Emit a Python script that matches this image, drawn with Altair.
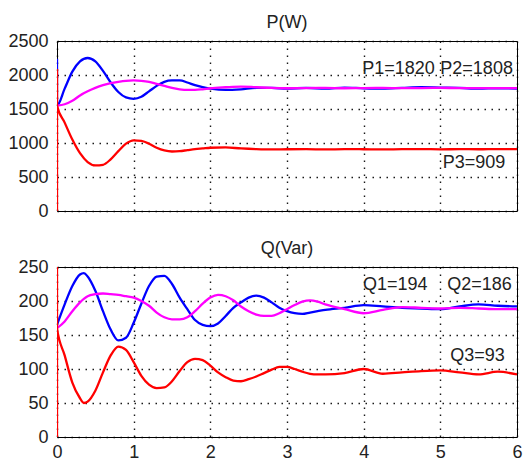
import altair as alt
import pandas as pd

# ---------------- data ----------------
t_p = [0, 0.1, 0.2, 0.3, 0.4, 0.5, 0.6, 0.7, 0.8, 0.9, 1.0, 1.1, 1.2, 1.3, 1.4,
       1.5, 1.6, 1.7, 1.8, 1.9, 2.0, 2.2, 2.4, 2.6, 2.8, 3.0, 3.25, 3.5, 3.75,
       4.0, 4.25, 4.5, 4.75, 5.0, 5.25, 5.5, 5.75, 6.0]
p1 = [1550, 1800, 2050, 2200, 2250, 2200, 2060, 1890, 1750, 1670, 1650, 1680,
      1760, 1840, 1900, 1920, 1920, 1890, 1850, 1820, 1800, 1780, 1790, 1810,
      1810, 1800, 1810, 1800, 1815, 1805, 1800, 1810, 1820, 1815, 1810, 1800,
      1805, 1800]
p2 = [1550, 1570, 1620, 1700, 1760, 1810, 1850, 1880, 1900, 1915, 1920, 1915,
      1900, 1870, 1840, 1810, 1790, 1780, 1780, 1790, 1805, 1820, 1830, 1820,
      1810, 1805, 1808, 1810, 1805, 1808, 1810, 1806, 1808, 1810, 1807, 1808,
      1806, 1808]
p3 = [1550, 1300, 1050, 850, 720, 670, 680, 760, 880, 990, 1040, 1030, 990,
      930, 890, 875, 880, 895, 910, 920, 930, 935, 920, 910, 905, 908, 910,
      905, 910, 908, 905, 909, 910, 907, 909, 908, 910, 909]
# initial switching spikes at t = 0
p1_spike = [2240]
p3_spike = [0, 2090]

t_q = [0, 0.1, 0.2, 0.3, 0.35, 0.4, 0.5, 0.6, 0.7, 0.8, 0.9, 1.0, 1.1, 1.2,
       1.3, 1.4, 1.5, 1.6, 1.7, 1.8, 1.9, 2.0, 2.1, 2.2, 2.3, 2.4, 2.5, 2.6,
       2.7, 2.8, 2.9, 3.0, 3.1, 3.2, 3.3, 3.4, 3.5, 3.75, 4.0, 4.25, 4.5, 4.75,
       5.0, 5.25, 5.5, 5.75, 6.0]
q1 = [165, 195, 222, 239, 241, 236, 215, 185, 158, 142, 146, 168, 196, 222,
      236, 237, 225, 205, 188, 172, 165, 163, 167, 178, 190, 198, 205, 208,
      205, 198, 190, 185, 182, 181, 183, 185, 187, 190, 194, 192, 190, 189,
      188, 192, 195, 193, 192]
q2 = [160, 170, 185, 198, 203, 207, 210, 211, 210, 209, 207, 205, 200, 193,
      183, 176, 173, 173, 176, 185, 196, 205, 209, 207, 201, 192, 185, 180,
      178, 178, 182, 188, 194, 199, 201, 199, 195, 188, 182, 187, 191, 190,
      189, 190, 189, 188, 188]
q3 = [160, 120, 80, 57, 50, 52, 68, 95, 120, 133, 128, 110, 90, 77, 72, 73,
      82, 97, 110, 115, 113, 105, 95, 88, 83, 82, 85, 89, 94, 99, 103, 103,
      100, 96, 93, 92, 92, 94, 100, 93, 95, 97, 98, 95, 92, 96, 92]
q3_spike = [0, 250]

series_names = ["1", "2", "3"]
series_colors = ["#0000FF", "#FF00FF", "#FF0000"]

p_labels = ["P1=1820", "P2=1808", "P3=909"]
p_label_t = [3.98, 5.0, 5.03]
p_label_v = [2090, 2090, 706]
q_labels = ["Q1=194", "Q2=186", "Q3=93"]
q_label_t = [3.99, 5.09, 5.13]
q_label_v = [223, 223, 119]

x_ticks = [0, 1, 2, 3, 4, 5, 6]
p_ticks = [0, 500, 1000, 1500, 2000, 2500]
q_ticks = [0, 50, 100, 150, 200, 250]


def build(t, curves, spikes):
    rows = []
    i = 0
    for name, vals in zip(series_names, curves):
        for v in spikes.get(name, []):
            rows.append({"t": 0.0, "v": v, "s": name, "i": i})
            i += 1
        for tt, v in zip(t, vals):
            rows.append({"t": tt, "v": v, "s": name, "i": i})
            i += 1
    return pd.DataFrame(rows)


df_p = build(t_p, [p1, p2, p3], {"1": p1_spike, "3": p3_spike})
df_q = build(t_q, [q1, q2, q3], {"3": q3_spike})
lab_p = pd.DataFrame({"t": p_label_t, "v": p_label_v, "txt": p_labels})
lab_q = pd.DataFrame({"t": q_label_t, "v": q_label_v, "txt": q_labels})

FONT = "Liberation Sans"
TXT = "#222222"
W, H = 460, 170

color = alt.Color("s:N", scale=alt.Scale(domain=series_names, range=series_colors),
                  legend=None)


def panel(df, lab, ticks, ymax, title, show_x):
    xaxis = alt.Axis(values=x_ticks, labels=show_x, title=None, ticks=False,
                     domain=False, labelPadding=6, grid=True, format="d",
                     labelOverlap=False, labelFlush=False)
    yaxis = alt.Axis(values=ticks, title=None, ticks=False, domain=False,
                     labelPadding=9, grid=True, format="d",
                     labelOverlap=False, labelFlush=False)
    x = alt.X("t:Q", scale=alt.Scale(domain=[0, 6], nice=False), axis=xaxis)
    y = alt.Y("v:Q", scale=alt.Scale(domain=[0, ymax], nice=False), axis=yaxis)
    lines = alt.Chart(df).mark_line(strokeWidth=2.3, interpolate="monotone",
                                    clip=True).encode(
        x=x, y=y, color=color, order=alt.Order("i:Q"), detail="s:N")
    texts = alt.Chart(lab).mark_text(align="left", baseline="middle", font=FONT,
                                     fontSize=18, color=TXT).encode(
        x=x, y=y, text="txt:N")
    return (lines + texts).properties(
        width=W, height=H,
        title=alt.TitleParams(title, font=FONT, fontSize=18, fontWeight="normal",
                              color=TXT, offset=0, frame="group"))


top = panel(df_p, lab_p, p_ticks, 2500, "P(W)", False)
bottom = panel(df_q, lab_q, q_ticks, 250, "Q(Var)", True)

chart = alt.vconcat(top, bottom, spacing=18).properties(
    padding={"left": 7, "top": 13, "right": 5, "bottom": 0},
    background="white",
).configure_view(stroke="black", strokeWidth=1).configure_axis(
    labelFont=FONT, labelFontSize=18, labelColor=TXT,
    gridColor="black", gridDash=[1.5, 5.5], gridWidth=1.4, gridOpacity=0.9,
)

chart.save("out.html", embed_options={"renderer": "svg", "actions": False})
